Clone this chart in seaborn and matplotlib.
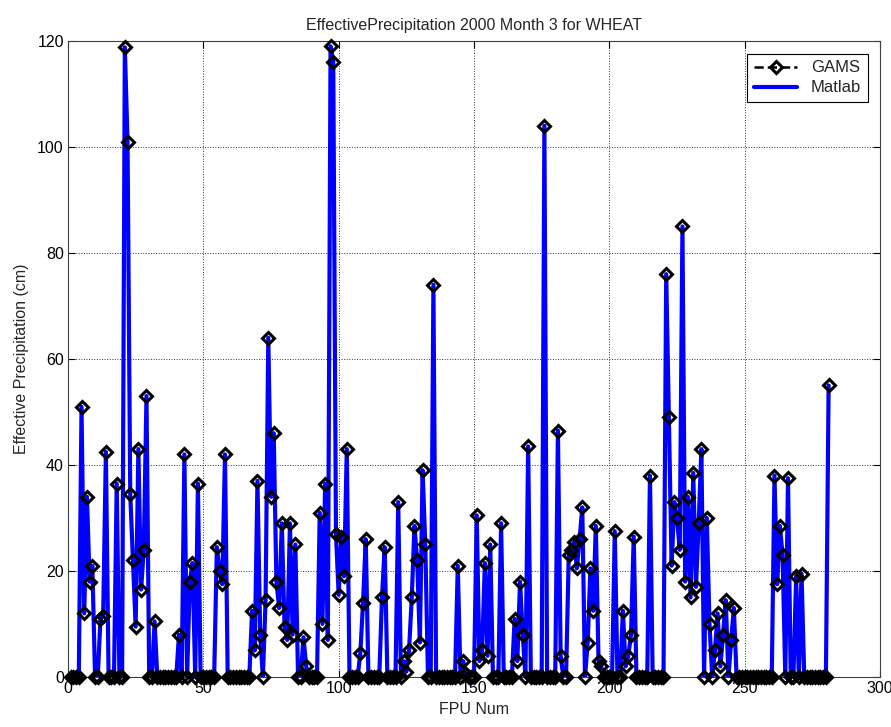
import numpy as np
import pandas as pd
import matplotlib
matplotlib.use("Agg")
import matplotlib.pyplot as plt
from matplotlib.lines import Line2D
import seaborn as sns

# Effective precipitation (cm) per FPU, 2000 month 3, wheat
fpu_num = np.arange(1, 282)
gams_precip = [
    0, 0, 0, 0, 51, 12, 34, 18, 21, 0,
    0, 11, 11.5, 42.5, 0, 0, 0, 36.5, 0, 0,
    118.8, 101, 34.5, 22, 9.5, 43, 16.5, 24, 53, 0,
    0, 10.5, 0, 0, 0, 0, 0, 0, 0, 0,
    8, 0, 42, 0, 18, 21.5, 0, 36.5, 0, 0,
    0, 0, 0, 0, 24.5, 20, 17.5, 42, 0, 0,
    0, 0, 0, 0, 0, 0, 0, 12.5, 5, 37,
    8, 0, 14.5, 64, 34, 46, 18, 13, 29, 9.5,
    7, 29, 8, 25, 0, 0, 7.5, 2, 0, 0,
    0, 0, 31, 10, 36.5, 7, 119, 116, 27, 15.5,
    26.5, 19, 43, 0, 0, 0, 0, 4.5, 14, 26,
    0, 0, 0, 0, 0, 15, 24.5, 0, 0, 0,
    0, 33, 0, 3, 1, 5, 15, 28.5, 22, 6.5,
    39, 25, 0, 0, 74, 0, 0, 0, 0, 0,
    0, 0, 0, 21, 0, 3, 0.5, 0, 0, 0,
    30.5, 3, 5, 21.5, 4, 25, 0, 0, 0, 29,
    0, 0, 0, 0, 11, 3, 18, 8, 0, 43.5,
    0, 0, 0, 0, 0, 104, 0, 0, 0, 0,
    46.5, 4, 0, 0, 23, 24, 25.5, 20.5, 26, 32,
    0, 6.5, 20.5, 12.5, 28.5, 3, 2, 0, 0, 0,
    0, 27.5, 0, 0, 12.5, 2, 4, 8, 26.5, 0,
    0, 0, 0, 0, 38, 0, 0, 0, 0, 0,
    76, 49, 21, 33, 30, 24, 85, 18, 34, 15,
    38.5, 17, 29, 43, 0, 30, 10, 0, 5, 12,
    2, 8, 14.5, 0, 7, 13, 0, 0, 0, 0,
    0, 0, 0, 0, 0, 0, 0, 0, 0, 0,
    38, 17.5, 28.5, 23, 0, 37.5, 0, 0, 19, 0,
    19.5, 0, 0, 0, 0, 0, 0, 0, 0, 0,
    55,
]
matlab_precip = list(gams_precip)

x_ticks = [0, 50, 100, 150, 200, 250, 300]
y_ticks = [0, 20, 40, 60, 80, 100, 120]

sns.set_theme(style="white")
plt.rcParams["font.family"] = ["Liberation Sans", "DejaVu Sans"]
plt.rcParams["xtick.direction"] = "in"
plt.rcParams["ytick.direction"] = "in"

df = pd.DataFrame({"fpu": fpu_num, "gams": gams_precip, "matlab": matlab_precip})

fig = plt.figure(figsize=(8.91, 7.27), dpi=100)
ax = fig.add_axes([0.0763, 0.0688, 0.9114, 0.8748])

# GAMS: dashed black line, Matlab: thick blue line, diamonds on top
sns.lineplot(data=df, x="fpu", y="gams", ax=ax, color="black",
             linestyle="--", linewidth=1.6, zorder=2, errorbar=None)
sns.lineplot(data=df, x="fpu", y="matlab", ax=ax, color="#0000ff",
             linewidth=3.0, zorder=3, errorbar=None)
sns.lineplot(data=df, x="fpu", y="gams", ax=ax, color="black",
             linestyle="none", marker="D", markersize=6.5,
             markerfacecolor="none", markeredgecolor="black",
             markeredgewidth=2.2, zorder=4, errorbar=None, clip_on=False)

ax.set_xlim(0, 300)
ax.set_ylim(0, 120)
ax.set_xticks(x_ticks)
ax.set_yticks(y_ticks)
ax.tick_params(axis="both", labelsize=11.5, length=5, width=0.8,
               top=True, right=True, bottom=True, left=True, pad=3,
               colors="black")
ax.grid(True, linestyle=":", color="black", linewidth=0.7, alpha=0.8)
for s in ax.spines.values():
    s.set_visible(True)
    s.set_color("#404040")
    s.set_linewidth(0.8)

ax.set_title("EffectivePrecipitation 2000 Month 3 for WHEAT",
             fontsize=11.5, pad=8)
ax.set_xlabel("FPU Num", fontsize=11.5, labelpad=4)
ax.set_ylabel("Effective Precipitation (cm)", fontsize=11.5, labelpad=6)

handles = [
    Line2D([], [], color="black", linestyle="--", linewidth=1.8,
           marker="D", markersize=6.5, markerfacecolor="none",
           markeredgewidth=2.2),
    Line2D([], [], color="#0000ff", linewidth=3.0),
]
leg = ax.legend(handles, ["GAMS", "Matlab"], loc="upper right",
                fontsize=12, frameon=True, fancybox=False,
                edgecolor="black", framealpha=1, borderpad=0.4,
                handlelength=2.6, labelspacing=0.3,
                bbox_to_anchor=(0.995, 0.993))
leg.get_frame().set_linewidth(0.8)

fig.savefig("out.png", dpi=100)
